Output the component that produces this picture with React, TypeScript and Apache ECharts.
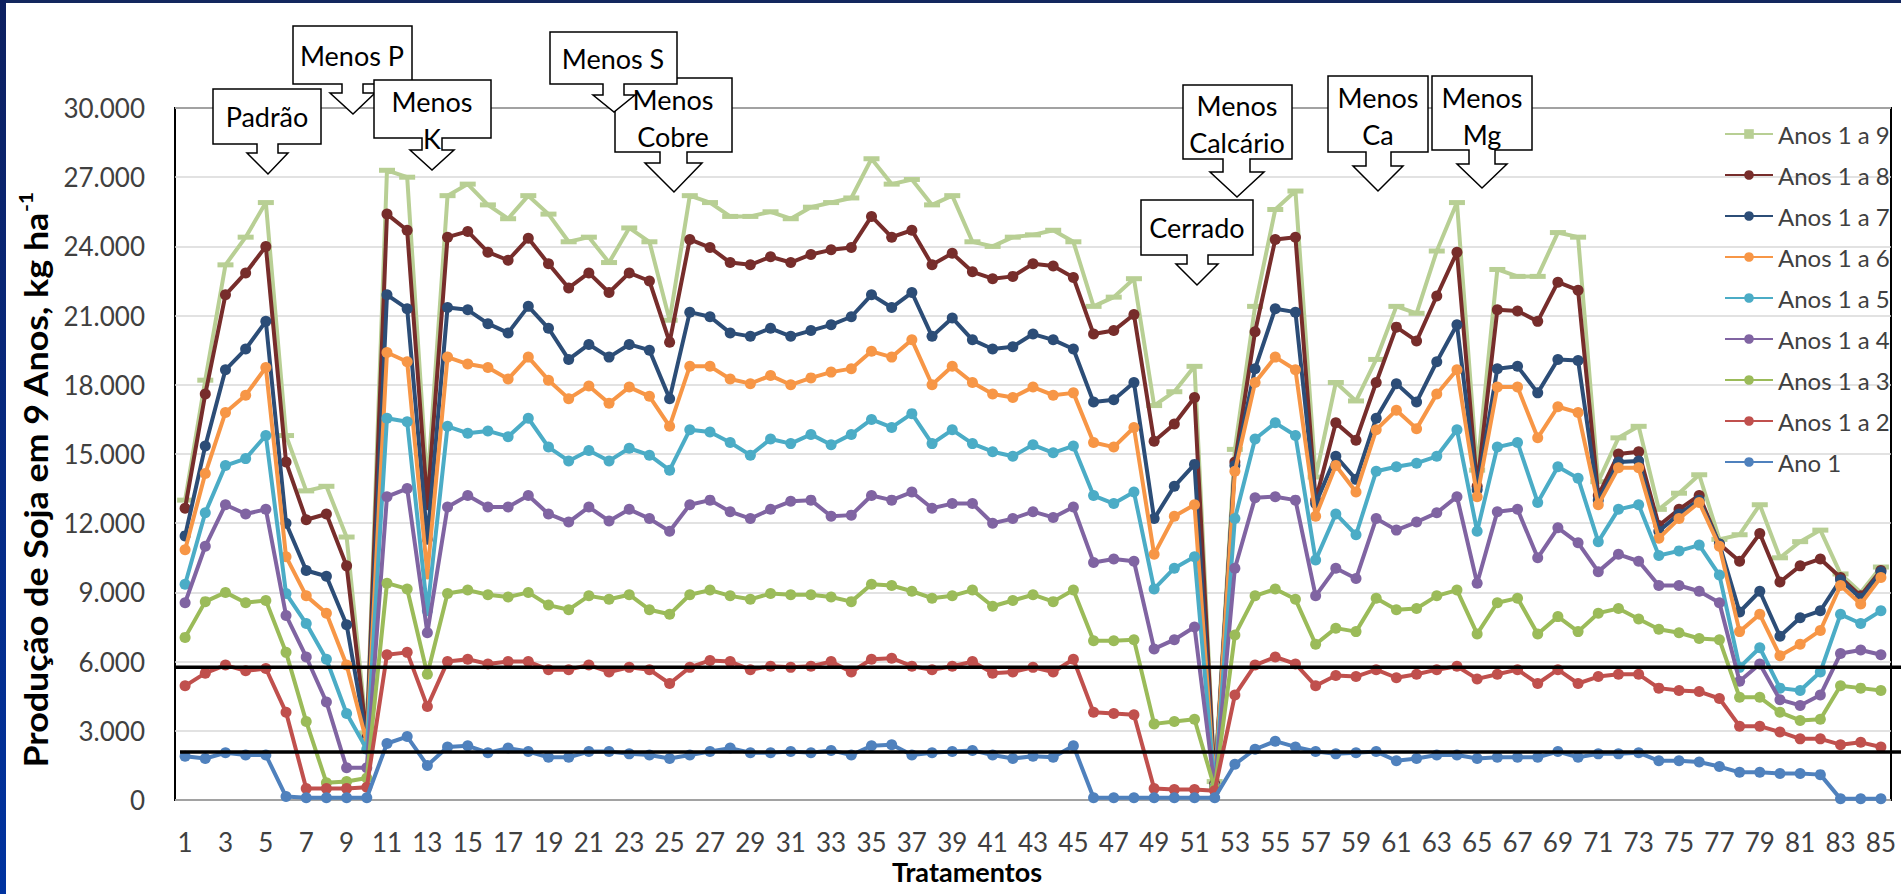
import React, { useEffect, useRef } from "react";
import * as echarts from "echarts";

// ---------- data ----------
const TREATMENTS: string[] = Array.from({ length: 85 }, (_, i) => String(i + 1));

const Y_TICKS_MAX = 30000;
const Y_TICK_STEP = 3000;

const ANOS_1_A_9 = [13000, 18200, 23200, 24400, 25900, 15800, 13400, 13600, 11400, 2900, 27300, 27000, 13600, 26200, 26700, 25800, 25200, 26200, 25400, 24200, 24400, 23300, 24800, 24200, 20800, 26200, 25900, 25300, 25300, 25500, 25200, 25700, 25900, 26100, 27800, 26700, 26900, 25800, 26200, 24200, 24000, 24400, 24500, 24700, 24200, 21400, 21800, 22600, 17100, 17700, 18800, 800, 15200, 21400, 25600, 26400, 14000, 18100, 17300, 19100, 21400, 21100, 23800, 25900, 14300, 23000, 22700, 22700, 24600, 24400, 13800, 15700, 16200, 12600, 13300, 14100, 11300, 11500, 12800, 10500, 11200, 11700, 9800, 9000, 10100];
const ANOS_1_A_8 = [12650, 17600, 21900, 22850, 24000, 14650, 12150, 12400, 10150, 2700, 25400, 24700, 12800, 24400, 24650, 23750, 23400, 24350, 23250, 22200, 22850, 22000, 22850, 22500, 19850, 24300, 23950, 23300, 23200, 23550, 23300, 23650, 23850, 23950, 25300, 24400, 24700, 23200, 23700, 22900, 22600, 22700, 23250, 23150, 22650, 20200, 20350, 21050, 15550, 16300, 17450, 700, 14650, 20300, 24300, 24400, 13000, 16350, 15600, 18100, 20500, 19900, 21850, 23750, 13600, 21250, 21200, 20750, 22450, 22100, 13200, 15000, 15100, 11900, 12600, 13200, 11100, 10350, 11550, 9450, 10150, 10450, 9650, 8850, 9950];
const ANOS_1_A_7 = [11450, 15350, 18650, 19550, 20750, 12000, 9950, 9700, 7600, 2600, 21900, 21300, 11300, 21350, 21250, 20650, 20250, 21400, 20450, 19100, 19750, 19200, 19750, 19500, 17400, 21150, 20950, 20250, 20100, 20450, 20100, 20350, 20600, 20950, 21900, 21350, 22000, 20100, 20900, 19950, 19550, 19650, 20200, 19950, 19550, 17250, 17350, 18100, 12200, 13600, 14550, 650, 14500, 18700, 21300, 21150, 12850, 14900, 13900, 16550, 18050, 17250, 19000, 20600, 13450, 18700, 18800, 17650, 19100, 19050, 13000, 14650, 14700, 11650, 12400, 13000, 11100, 8150, 9050, 7100, 7900, 8200, 9550, 8750, 9900];
const ANOS_1_A_6 = [10850, 14150, 16800, 17550, 18750, 10550, 8850, 8100, 5850, 2500, 19400, 19000, 9800, 19200, 18900, 18750, 18250, 19200, 18200, 17400, 17950, 17200, 17900, 17500, 16200, 18800, 18800, 18250, 18050, 18400, 18000, 18300, 18550, 18700, 19450, 19200, 19950, 18000, 18800, 18100, 17600, 17450, 17900, 17550, 17650, 15500, 15300, 16150, 10650, 12300, 12800, 600, 14250, 18100, 19200, 18650, 12300, 14500, 13350, 16050, 16900, 16100, 17600, 18650, 13150, 17900, 17900, 15700, 17050, 16800, 12800, 14400, 14400, 11350, 12200, 12900, 11000, 7300, 8050, 6250, 6750, 7350, 9300, 8500, 9650];
const ANOS_1_A_5 = [9350, 12450, 14500, 14800, 15800, 8950, 7650, 6100, 3750, 2200, 16550, 16400, 8200, 16200, 15900, 16000, 15750, 16550, 15300, 14700, 15150, 14700, 15250, 14950, 14300, 16050, 15950, 15500, 14950, 15650, 15450, 15850, 15400, 15850, 16500, 16150, 16750, 15450, 16050, 15450, 15100, 14900, 15400, 15050, 15350, 13200, 12850, 13350, 9150, 10050, 10550, 550, 12200, 15650, 16350, 15800, 10400, 12400, 11500, 14250, 14450, 14600, 14900, 16050, 11650, 15300, 15500, 12900, 14450, 13950, 11200, 12600, 12800, 10600, 10800, 11050, 9750, 5750, 6600, 4850, 4750, 5550, 8050, 7650, 8200];
const ANOS_1_A_4 = [8550, 11000, 12800, 12400, 12600, 8000, 6200, 4250, 1400, 1400, 13150, 13500, 7250, 12700, 13200, 12700, 12700, 13200, 12400, 12050, 12700, 12100, 12600, 12200, 11650, 12800, 13000, 12500, 12200, 12600, 12950, 13000, 12300, 12350, 13200, 13000, 13350, 12650, 12850, 12850, 12000, 12200, 12500, 12250, 12700, 10300, 10450, 10350, 6550, 6950, 7500, 500, 10050, 13100, 13150, 13000, 8850, 10050, 9600, 12200, 11700, 12050, 12450, 13150, 9400, 12500, 12600, 10500, 11800, 11150, 9900, 10650, 10350, 9300, 9300, 9050, 8550, 5150, 5900, 4350, 4100, 4550, 6350, 6500, 6300];
const ANOS_1_A_3 = [7050, 8600, 9000, 8550, 8650, 6400, 3400, 750, 800, 950, 9400, 9150, 5450, 8950, 9100, 8900, 8800, 9000, 8450, 8250, 8850, 8700, 8900, 8250, 8050, 8900, 9100, 8850, 8700, 8950, 8900, 8900, 8800, 8600, 9350, 9300, 9050, 8750, 8850, 9100, 8400, 8650, 8900, 8600, 9100, 6900, 6900, 6950, 3300, 3400, 3500, 500, 7150, 8850, 9150, 8700, 6750, 7450, 7300, 8750, 8250, 8300, 8850, 9100, 7200, 8550, 8750, 7200, 7950, 7300, 8100, 8300, 7850, 7400, 7250, 7000, 6950, 4450, 4450, 3800, 3450, 3500, 4950, 4850, 4750];
const ANOS_1_A_2 = [4950, 5500, 5850, 5600, 5700, 3800, 500, 500, 500, 550, 6300, 6400, 4050, 6000, 6100, 5900, 6000, 6000, 5650, 5650, 5850, 5550, 5750, 5650, 5050, 5750, 6050, 6000, 5650, 5800, 5750, 5800, 6000, 5550, 6100, 6150, 5800, 5650, 5800, 6000, 5500, 5550, 5750, 5550, 6100, 3800, 3750, 3700, 500, 450, 450, 400, 4550, 5850, 6200, 5900, 4950, 5400, 5350, 5650, 5300, 5450, 5650, 5800, 5250, 5450, 5650, 5050, 5650, 5050, 5350, 5450, 5450, 4850, 4750, 4700, 4400, 3200, 3200, 2950, 2650, 2650, 2400, 2500, 2300];
const ANO_1 = [1900, 1800, 2050, 1950, 1950, 150, 100, 100, 100, 100, 2450, 2750, 1500, 2300, 2350, 2050, 2250, 2100, 1850, 1850, 2100, 2100, 2000, 1950, 1800, 1950, 2100, 2250, 2050, 2050, 2100, 2050, 2150, 1950, 2350, 2400, 1950, 2050, 2100, 2150, 1950, 1800, 1900, 1850, 2350, 100, 100, 100, 100, 100, 100, 100, 1550, 2200, 2550, 2300, 2100, 2000, 2050, 2100, 1700, 1800, 1950, 1950, 1800, 1850, 1850, 1850, 2100, 1850, 2000, 2000, 2050, 1700, 1700, 1650, 1450, 1200, 1200, 1150, 1150, 1100, 50, 50, 50];

const SERIES_NAMES = ["Anos 1 a 9", "Anos 1 a 8", "Anos 1 a 7", "Anos 1 a 6", "Anos 1 a 5", "Anos 1 a 4", "Anos 1 a 3", "Anos 1 a 2", "Ano 1"];
const SERIES_VALUES = [ANOS_1_A_9, ANOS_1_A_8, ANOS_1_A_7, ANOS_1_A_6, ANOS_1_A_5, ANOS_1_A_4, ANOS_1_A_3, ANOS_1_A_2, ANO_1];

// reference levels (kg/ha) drawn as black lines
const REFERENCE_LEVELS = [5750, 2080];

const CALLOUT_TEXTS = ["Padrão", "Menos\nCobre", "Menos S", "Menos P", "Menos\nK", "Cerrado", "Menos\nCalcário", "Menos\nCa", "Menos\nMg"];

const Y_TITLE = "Produção de Soja em 9 Anos, kg ha";
const Y_TITLE_SUP = "-1";
const X_TITLE = "Tratamentos";

// ---------- styles / layout ----------
const COLORS = ["#B8CF94", "#772D2B", "#2C4D77", "#F79646", "#4BACC6", "#8064A2", "#9BBB59", "#C0504D", "#4F81BD"];
const FONT = "Lato, 'Noto Sans', sans-serif";
const W = 1901;
const H = 894;

// callout geometry: box L,R,T,B ; stem sL,sR ; head top hY, hL,hR ; tip tx,ty ; text centre cx,cy
const CALLOUT_GEOM = [
  { L: 213, R: 321, T: 89, B: 144, sL: 257, sR: 278, hY: 153, hL: 247, hR: 288, tx: 268, ty: 174, cx: 267, cy: 116 },
  { L: 615, R: 732, T: 78, B: 152, sL: 660, sR: 687, hY: 163, hL: 645, hR: 702, tx: 674, ty: 192, cx: 673, cy: 118 },
  { L: 550, R: 677, T: 32, B: 84, sL: 603, sR: 624, hY: 95, hL: 593, hR: 635, tx: 614, ty: 112, cx: 613, cy: 58 },
  { L: 293, R: 412, T: 26, B: 84, sL: 342, sR: 363, hY: 93, hL: 330, hR: 375, tx: 353, ty: 114, cx: 352, cy: 55 },
  { L: 374, R: 491, T: 80, B: 138, sL: 422, sR: 442, hY: 150, hL: 410, hR: 454, tx: 432, ty: 170, cx: 432, cy: 120 },
  { L: 1141, R: 1253, T: 200, B: 255, sL: 1187, sR: 1208, hY: 264, hL: 1176, hR: 1218, tx: 1197, ty: 285, cx: 1197, cy: 227 },
  { L: 1183, R: 1292, T: 85, B: 159, sL: 1223, sR: 1250, hY: 172, hL: 1210, hR: 1264, tx: 1237, ty: 197, cx: 1237, cy: 124 },
  { L: 1328, R: 1428, T: 76, B: 152, sL: 1366, sR: 1391, hY: 166, hL: 1353, hR: 1403, tx: 1378, ty: 191, cx: 1378, cy: 116 },
  { L: 1432, R: 1532, T: 76, B: 150, sL: 1469, sR: 1495, hY: 164, hL: 1457, hR: 1507, tx: 1482, ty: 188, cx: 1482, cy: 116 },
];

function fmtY(v: number): string {
  if (v === 0) return "0";
  const th = Math.floor(v / 1000);
  const rest = String(v % 1000).padStart(3, "0");
  return th + "." + rest;
}

function calloutElements(i: number): any[] {
  const g = CALLOUT_GEOM[i];
  const pts = [
    [g.L, g.T], [g.R, g.T], [g.R, g.B], [g.sR, g.B], [g.sR, g.hY], [g.hR, g.hY],
    [g.tx, g.ty], [g.hL, g.hY], [g.sL, g.hY], [g.sL, g.B], [g.L, g.B],
  ];
  return [
    {
      type: "polygon",
      z: 100 + i * 2,
      shape: { points: pts },
      style: { fill: "#FFFFFF", stroke: "#000000", lineWidth: 1.5 },
      silent: true,
    },
    {
      type: "text",
      z: 101 + i * 2,
      x: g.cx,
      y: g.cy,
      style: {
        text: CALLOUT_TEXTS[i],
        fontFamily: FONT,
        fontSize: 27,
        fill: "#000000",
        lineHeight: 37,
        align: "center",
        verticalAlign: "middle",
        textAlign: "center",
        textVerticalAlign: "middle",
      },
      silent: true,
    },
  ];
}

export default function App() {
  const ref = useRef<HTMLDivElement>(null);

  useEffect(() => {
    if (!ref.current) return;
    const chart = echarts.init(ref.current, undefined, { renderer: "svg" });

    const series = SERIES_NAMES.map((name, i) => ({
      name,
      type: "line",
      data: SERIES_VALUES[i],
      symbol: i === 0 ? "rect" : "circle",
      symbolSize: i === 0 ? [16, 5] : 11,
      showSymbol: true,
      lineStyle: { width: 4, color: COLORS[i] },
      itemStyle: { color: COLORS[i] },
      emphasis: { disabled: true },
      z: 2 + i,
    }));

    const option: any = {
      animation: false,
      backgroundColor: "#FFFFFF",
      grid: {
        left: 175,
        right: 10,
        top: 108,
        bottom: 94,
        show: true,
        borderColor: "#000000",
        borderWidth: 2,
        containLabel: false,
      },
      legend: {
        orient: "vertical",
        left: 1719,
        top: 117,
        itemWidth: 48,
        itemHeight: 12,
        itemGap: 17,
        data: SERIES_NAMES,
        textStyle: { fontFamily: FONT, fontSize: 24, color: "#404040", lineHeight: 24 },
      },
      xAxis: {
        type: "category",
        data: TREATMENTS,
        boundaryGap: true,
        axisLine: { show: false },
        axisTick: { show: false },
        splitLine: { show: false },
        axisLabel: { interval: 1, margin: 29, fontFamily: FONT, fontSize: 26, color: "#404040" },
      },
      yAxis: {
        type: "value",
        min: 0,
        max: Y_TICKS_MAX,
        interval: Y_TICK_STEP,
        axisLine: { show: false },
        axisTick: { show: false },
        splitLine: { show: true, lineStyle: { color: "#D9D9D9", width: 1.5 } },
        axisLabel: { margin: 30, fontFamily: FONT, fontSize: 26, color: "#404040", formatter: fmtY },
      },
      series,
    };

    chart.setOption(option);

    const refLines = REFERENCE_LEVELS.map((v, i) => {
      const y = chart.convertToPixel({ yAxisIndex: 0 }, v) as number;
      return {
        type: "line",
        z: 90,
        shape: { x1: i === 0 ? 174 : 180, y1: y, x2: W, y2: y },
        style: { stroke: "#000000", lineWidth: 3.5 },
        silent: true,
      };
    });

    const callouts: any[] = [];
    CALLOUT_GEOM.forEach((_, i) => callouts.push(...calloutElements(i)));

    const graphic: any[] = [
      ...refLines,
      ...callouts,
      {
        type: "text",
        z: 120,
        x: 35,
        y: 480,
        rotation: Math.PI / 2,
        scaleX: 1.12,
        style: {
          text: "{a|" + Y_TITLE + "}{s|" + Y_TITLE_SUP + "}",
          align: "center",
          verticalAlign: "middle",
          textAlign: "center",
          textVerticalAlign: "middle",
          rich: {
            a: { fontFamily: FONT, fontSize: 32, fontWeight: "bold", fill: "#000000", lineHeight: 38 },
            s: { fontFamily: FONT, fontSize: 19, fontWeight: "bold", fill: "#000000", lineHeight: 38, verticalAlign: "top", padding: [0, 0, 15, 0] },
          },
        },
        silent: true,
      },
      {
        type: "text",
        z: 120,
        x: 967,
        y: 871,
        style: {
          text: X_TITLE,
          fontFamily: FONT,
          fontSize: 27,
          fontWeight: "bold",
          fill: "#000000",
          lineHeight: 30,
          align: "center",
          verticalAlign: "middle",
          textAlign: "center",
          textVerticalAlign: "middle",
        },
        silent: true,
      },
      {
        type: "rect",
        z: 130,
        shape: { x: 0, y: 0, width: W, height: 3 },
        style: { fill: "#13275E" },
        silent: true,
      },
      {
        type: "rect",
        z: 130,
        shape: { x: 0, y: 0, width: 6, height: H },
        style: {
          fill: new echarts.graphic.LinearGradient(0, 0, 0, 1, [
            { offset: 0, color: "#0D2060" },
            { offset: 1, color: "#0033A0" },
          ]),
        },
        silent: true,
      },
    ];

    chart.setOption({ graphic });

    return () => {
      chart.dispose();
    };
  }, []);

  return (
    <div
      ref={ref}
      style={{ position: "absolute", left: 0, top: 0, width: W, height: H, background: "#FFFFFF" }}
    />
  );
}
